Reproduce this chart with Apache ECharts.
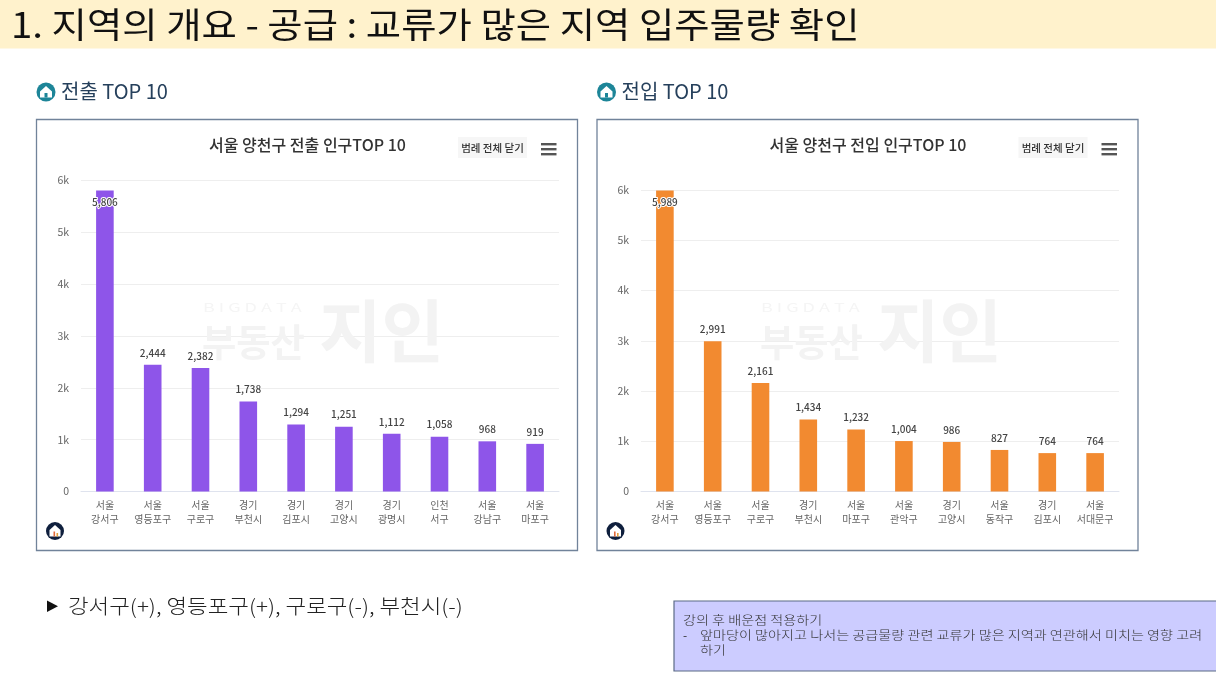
<!DOCTYPE html>
<html><head><meta charset="utf-8">
<style>html,body{margin:0;padding:0;background:#fff}#c{width:1216px;height:684px}</style>
<script src="https://cdn.jsdelivr.net/npm/echarts@6/dist/echarts.min.js"></script>
</head><body><div id="c"></div>
<script>
const FONT = '"Noto Sans CJK KR","Noto Sans",sans-serif';
const outCategories = ['서울\n강서구','서울\n영등포구','서울\n구로구','경기\n부천시','경기\n김포시','경기\n고양시','경기\n광명시','인천\n서구','서울\n강남구','서울\n마포구'];
const outValues = [5806,2444,2382,1738,1294,1251,1112,1058,968,919];
const inCategories = ['서울\n강서구','서울\n영등포구','서울\n구로구','경기\n부천시','서울\n마포구','서울\n관악구','경기\n고양시','서울\n동작구','경기\n김포시','서울\n서대문구'];
const inValues = [5989,2991,2161,1434,1232,1004,986,827,764,764];
const yTicksMax = 6000;

function txt(x,y,text,size,color,extra,sx){
  return {type:'text',x,y,scaleX:sx||1,silent:true,z:(extra&&extra.z)||20,style:Object.assign({text,fontSize:size,fill:color,fontFamily:FONT,verticalAlign:'middle'},extra||{})};
}
function rect(x,y,w,h,fill,stroke,lw,z){
  return {type:'rect',silent:true,z:z===undefined?1:z,shape:{x,y,width:w,height:h},style:{fill,stroke:stroke||null,lineWidth:lw||0}};
}
function panelDecor(dx,wx,heading,title){
  const els=[];
  els.push({type:'circle',silent:true,z:5,shape:{cx:46+dx,cy:92,r:9.5},style:{fill:'#1d8598'}});
  els.push({type:'polygon',silent:true,z:6,shape:{points:[[46+dx,86],[52+dx,91.5],[52+dx,97.5],[40+dx,97.5],[40+dx,91.5]]},style:{fill:'#fff'}});
  els.push(rect(44.5+dx,93,3,4.5,'#1d8598',null,0,7));
  els.push(txt(61+dx,91.5,heading,20,'#26405c',{fontWeight:400}));
  els.push(rect(36.5+dx,119.5,541,431,'#fff','#71839a',1.3,0));
  els.push(txt(307.5+dx,144.5,title,16,'#333',{align:'center',fontWeight:500}));
  els.push(rect(458+dx,137,69,21,'#f6f6f6',null,0,1));
  els.push(txt(492.5+dx,148.5,'범례 전체 닫기',10.5,'#333',{align:'center',fontWeight:500}));
  [143,148,153].forEach(y=>els.push(rect(541+dx,y,15.5,2.4,'#555',null,0,2)));
  els.push({type:'circle',silent:true,z:5,shape:{cx:55+dx,cy:531,r:9},style:{fill:'#0f1f3d'}});
  els.push({type:'polygon',silent:true,z:6,shape:{points:[[55+dx,525],[60.5+dx,530],[60.5+dx,536.5],[49.5+dx,536.5],[49.5+dx,530]]},style:{fill:'#fff'}});
  els.push(rect(53.5+dx,531.5,1.6,5,'#e2693a',null,0,7));
  els.push(rect(56.5+dx,533,1.6,3.5,'#e2a03a',null,0,7));
  els.push(txt(203+wx,307,'B I G D A T A',12,'#f5f5f5',{z:2,fontWeight:400},1.5));
  els.push(txt(202+wx,342,'부동산',38,'#f3f3f3',{z:2,fontWeight:700},0.98));
  els.push(txt(319+wx,331,'지인',68,'#f3f3f3',{z:2,fontWeight:700},1.0));
  return els;
}
const graphicEls = [
  rect(0,0,1216,48.5,'#fff2cc',null,0,0),
  txt(11,25,'1. 지역의 개요 - 공급 : 교류가 많은 지역 입주물량 확인',35,'#111',{fontWeight:400},1.097),
  ...panelDecor(0,0,'전출 TOP 10','서울 양천구 전출 인구TOP 10'),
  ...panelDecor(560.5,558,'전입 TOP 10','서울 양천구 전입 인구TOP 10'),
  {type:'polygon',silent:true,z:5,shape:{points:[[47,600.5],[47,612],[58,606.2]]},style:{fill:'#111'}},
  txt(68,606,'강서구(+), 영등포구(+), 구로구(-), 부천시(-)',20,'#222',{fontWeight:300},1.12),
  rect(674,601,545,70,'#ccccff','#5b6a86',1.2,1),
  txt(683,620,'강의 후 배운점 적용하기',12.5,'#333',{fontWeight:300},1.13),
  txt(683,635.5,'-',12,'#333'),
  txt(700,635.5,'앞마당이 많아지고 나서는 공급물량 관련 교류가 많은 지역과 연관해서 미치는 영향 고려',12.5,'#333',{fontWeight:300},1.13),
  txt(700,650.5,'하기',12.5,'#333',{fontWeight:300},1.13)
];
function axisPair(gridIndex,cats){
  return {
    x:{type:'category',gridIndex,data:cats,axisTick:{show:false},
       axisLine:{lineStyle:{color:'#dfe3ee',width:1}},
       axisLabel:{interval:0,fontSize:10,lineHeight:13.5,color:'#666',margin:7,fontFamily:FONT}},
    y:{type:'value',gridIndex,min:0,max:yTicksMax,interval:1000,
       axisLine:{show:false},axisTick:{show:false},
       splitLine:{lineStyle:{color:'#eeeeee',width:1}},
       axisLabel:{fontSize:10.5,color:'#666',margin:12,fontFamily:FONT,
         formatter:v=>v===0?'0':(v/1000)+'k'}}
  };
}
function barSeries(idx,values,color){
  return {type:'bar',xAxisIndex:idx,yAxisIndex:idx,barWidth:17.6,z:5,
    data:values.map((v,i)=>({value:v,label:i===0?{position:'insideTop',distance:7,textBorderColor:'#fff',textBorderWidth:2}:{}})),
    itemStyle:{color},
    label:{show:true,position:'top',distance:7,fontSize:10,fontWeight:500,color:'#444',fontFamily:FONT,
      formatter:p=>p.value.toLocaleString('en-US')}};
}
const a=axisPair(0,outCategories), b=axisPair(1,inCategories);
const chart=echarts.init(document.getElementById('c'),null,{renderer:'canvas'});
chart.setOption({
  animation:false,backgroundColor:'#fff',
  grid:[
    {left:81,top:180.5,width:478,height:311},
    {left:641,top:190,width:478,height:301.5}
  ],
  xAxis:[a.x,b.x],yAxis:[a.y,b.y],
  series:[barSeries(0,outValues,'#8e55e9'),barSeries(1,inValues,'#f28a30')],
  graphic:{elements:graphicEls}
});
</script></body></html>
